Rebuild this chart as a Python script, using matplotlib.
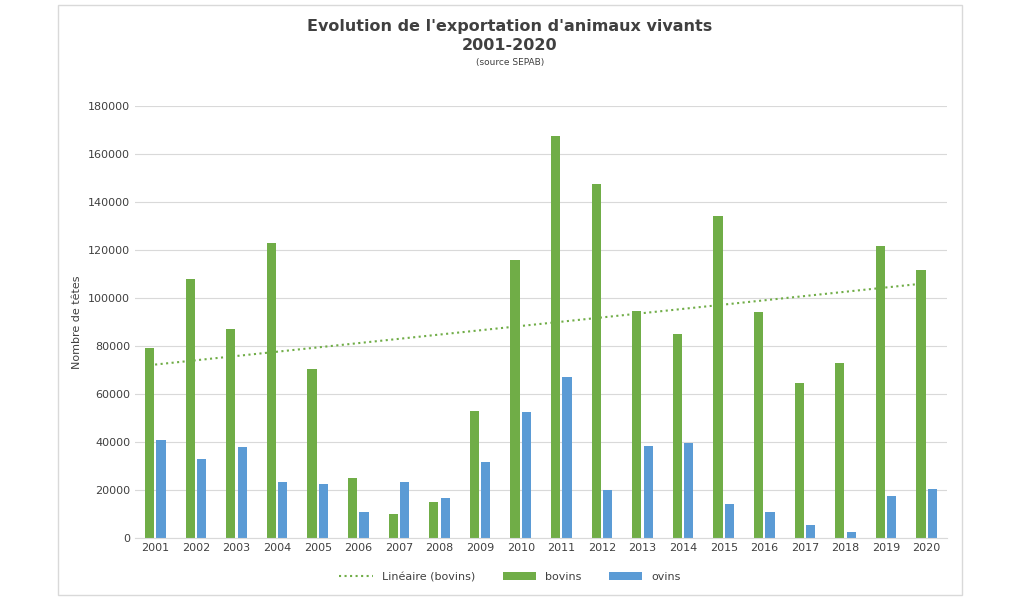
import matplotlib
matplotlib.use("Agg")
import matplotlib.pyplot as plt
import numpy as np
from matplotlib.patches import Rectangle

years = [str(y) for y in range(2001, 2021)]
bovins = [79000,108000,87000,123000,70500,25000,10000,15000,53000,116000,
          167500,147500,94500,85000,134000,94000,64500,73000,121500,111500]
ovins = [41000,33000,38000,23500,22500,11000,23500,16500,31500,52500,
         67000,20000,38500,39500,14000,11000,5500,2500,17500,20500]

fig = plt.figure(figsize=(10.18, 6.0), dpi=100)
fig.patches.append(Rectangle((58/1018, 5/600), 904/1018, 590/600, transform=fig.transFigure,
                             fill=False, edgecolor="#d9d9d9", lw=1))
ax = fig.add_axes([135/1018, 62/600, 812/1018, 432/600])
x = np.arange(len(years))
w = 0.23
green, blue = "#70AD47", "#5B9BD5"
ax.bar(x - 0.14, bovins, w, color=green, label="bovins")
ax.bar(x + 0.14, ovins, w, color=blue, label="ovins")
c = np.polyfit(x, bovins, 1)
ax.plot([x[0]-0.14, x[-1]-0.14], np.polyval(c, [x[0], x[-1]]), ls=":", color=green, lw=1.5,
        label="Linéaire (bovins)")
ax.set_xlim(-0.5, len(years)-0.5)
ax.set_ylim(0, 180000)
ax.set_yticks(range(0, 180001, 20000))
ax.set_xticks(x)
ax.set_xticklabels(years)
ax.tick_params(length=0, labelsize=8, colors="#404040")
ax.yaxis.grid(True, color="#d9d9d9", lw=0.8)
ax.set_axisbelow(True)
for s in ["top", "right", "left"]:
    ax.spines[s].set_visible(False)
ax.spines["bottom"].set_color("#d9d9d9")
ax.set_ylabel("Nombre de têtes", fontsize=8, color="#404040")
fig.text(510/1018, 1-26/600, "Evolution de l'exportation d'animaux vivants", ha="center", va="center",
         fontsize=11.5, fontweight="bold", color="#404040")
fig.text(510/1018, 1-46/600, "2001-2020", ha="center", va="center", fontsize=11.5, fontweight="bold", color="#404040")
fig.text(510/1018, 1-63/600, "(source SEPAB)", ha="center", va="center", fontsize=6.5, color="#404040")
fig.legend(loc="center", bbox_to_anchor=(510/1018, 1-577/600), ncol=3, frameon=False, fontsize=8,
           handlelength=3, columnspacing=2.5, labelcolor="#404040")
fig.savefig("out.png", dpi=100)
